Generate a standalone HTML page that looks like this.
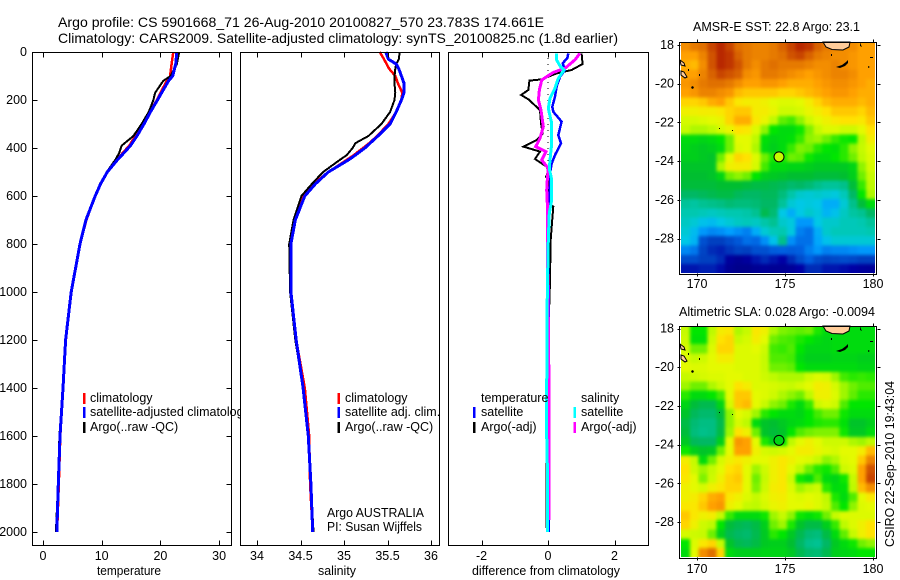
<!DOCTYPE html>
<html lang="en">
<head>
<meta charset="utf-8">
<title>Argo profile 5901668_71</title>
<style>
html,body{margin:0;padding:0;background:#fff;}
svg{display:block;}
text{font-family:"Liberation Sans",sans-serif;fill:#000;}
</style>
</head>
<body>
<svg id="fig" xmlns="http://www.w3.org/2000/svg" width="900" height="580" viewBox="0 0 900 580">
  <defs>
    <filter id="soften" x="-5%" y="-5%" width="110%" height="110%" color-interpolation-filters="sRGB">
      <feGaussianBlur stdDeviation="1.7"/>
      <feComponentTransfer><feFuncA type="linear" slope="200" intercept="0"/></feComponentTransfer>
    </filter>
    <clipPath id="clip-m1"><rect x="681" y="42" width="194" height="231"/></clipPath>
    <clipPath id="clip-m2"><rect x="681" y="326" width="194" height="231"/></clipPath>
  </defs>
  <rect width="900" height="580" fill="#fff"/>
  <text x="58" y="27" font-size="14" textLength="486" lengthAdjust="spacingAndGlyphs">Argo profile: CS 5901668_71 26-Aug-2010 20100827_570 23.783S 174.661E</text>
  <text x="58" y="43" font-size="14" textLength="560" lengthAdjust="spacingAndGlyphs">Climatology: CARS2009. Satellite-adjusted climatology: synTS_20100825.nc (1.8d earlier)</text>
  <g id="p1"></g>
  <g id="p2"></g>
  <g id="p3"></g>
  <g id="m1"></g>
  <g id="m2"></g>
  <g id="overlay">
    <text x="97" y="575" font-size="12.5" textLength="64" lengthAdjust="spacingAndGlyphs">temperature</text>
    <text x="318" y="575" font-size="12.5" textLength="38" lengthAdjust="spacingAndGlyphs">salinity</text>
    <text x="472" y="575" font-size="12.5" textLength="148" lengthAdjust="spacingAndGlyphs">difference from climatology</text>
    <text x="327" y="517" font-size="12.5" textLength="97" lengthAdjust="spacingAndGlyphs">Argo AUSTRALIA</text>
    <text x="327" y="531" font-size="12.5" textLength="95" lengthAdjust="spacingAndGlyphs">PI: Susan Wijffels</text>
    <text x="693" y="31" font-size="12.5" textLength="167" lengthAdjust="spacingAndGlyphs">AMSR-E SST: 22.8 Argo: 23.1</text>
    <text x="679" y="316" font-size="12.5" textLength="196" lengthAdjust="spacingAndGlyphs">Altimetric SLA: 0.028 Argo: -0.0094</text>
    <text transform="translate(894,547) rotate(-90)" font-size="12.5" textLength="166" lengthAdjust="spacingAndGlyphs">CSIRO 22-Sep-2010 19:43:04</text>
  </g>
</svg>
<script>
// ---------- profile data ----------
const depthTicks = [0,200,400,600,800,1000,1200,1400,1600,1800,2000];
const tempTicks = [0,10,20,30];
const salTickValues = [34,34.5,35,35.5,36];
const salTickLabels = ['34','34.5','35','35.5','36'];
const diffTicks = [-2,0,2];

const tempDepth = [0,50,100,120,170,200,250,300,350,390,420,450,500,550,600,700,800,1000,1200,1400,1600,1800,2000];
const tempClim = [22.2,21.9,21.65,21.1,20.0,19.4,18.2,17.0,15.7,14.7,13.6,12.55,10.95,9.8,8.9,7.4,6.3,4.8,3.9,3.4,2.95,2.7,2.4];
const tempSat = [22.8,22.6,22.1,21.4,20.2,19.5,18.3,17.2,16.0,14.9,13.8,12.65,10.95,9.8,8.9,7.3,6.3,4.8,3.85,3.4,2.9,2.6,2.35];
const tempArgo = [23.2,22.8,21.75,20.5,19.1,18.8,18.0,16.8,15.4,13.4,13.0,12.3,10.85,9.7,8.9,7.3,6.25,4.75,3.85,3.35,2.8,2.55,2.2];

const salDepth = [0,30,50,70,100,130,170,200,250,300,350,380,400,430,450,500,550,600,700,800,1000,1200,1400,1600,1800,2000];
const salClim = [35.41,35.46,35.49,35.52,35.59,35.62,35.67,35.66,35.6,35.51,35.38,35.29,35.22,35.11,35.03,34.82,34.65,34.53,34.44,34.39,34.39,34.45,34.55,34.6,34.61,34.64];
const salSat = [35.48,35.51,35.6,35.63,35.66,35.69,35.69,35.66,35.6,35.53,35.39,35.3,35.24,35.13,35.05,34.82,34.67,34.55,34.44,34.39,34.39,34.45,34.53,34.59,34.62,34.64];
const salArgo = [35.64,35.63,35.6,35.59,35.58,35.58,35.59,35.58,35.53,35.43,35.28,35.13,35.1,35.03,34.95,34.76,34.63,34.51,34.42,34.37,34.38,34.44,34.53,34.59,34.62,34.65];

const diffTempArgoDepth = [6,50,75,89,114,119,158,179,197,242,297,339,367,394,415,446,478,499,519,533,575,631,644,728,783,1000,1200,1400,1600,1840,1983];
const diffTempArgo = [1.01,1.04,.71,.26,-.19,-.56,-.59,-.81,-.59,-.24,-.21,-.16,-.34,-.74,-.24,-.39,-.04,.01,-.06,.04,.01,-.02,.16,.11,.08,.05,.0,.0,-.03,-.05,-.05];
const diffTempSatDepth = [6,26,47,75,103,144,186,228,249,290,346,381,429,464,506,561,617,658,783,1000,1400,1800,2000];
const diffTempSat = [.61,.58,.44,.51,.36,.26,.21,.13,.16,.41,.31,.39,.21,.11,.06,.06,.04,-.02,-.02,.02,.03,.02,.02];
const diffSalArgoDepth = [6,33,68,85,103,117,158,200,242,311,360,394,415,450,485,533,575,631,783,1000,1400,1800,1950];
const diffSalArgo = [.96,.81,.51,.16,-.04,-.19,-.26,-.29,-.21,-.14,-.24,-.37,-.06,-.19,.01,-.02,-.04,-.02,-.02,.0,.03,.03,.03];
const diffSalSatDepth = [6,33,58,75,110,151,193,235,297,381,450,485,533,617,672,783,1000,1400,1600,1800,2000];
const diffSalSat = [.26,.26,.36,.48,.31,.21,.06,.01,.11,.11,.06,.04,.11,.11,.04,.01,-.02,-.04,-.04,-.01,-.01];

// ---------- map data (colour-scale index 0 cold/low .. 10 warm/high) ----------
const mapLonTicks = [170,175,180];
const mapLatTicks = [18,20,22,24,26,28];
const argoLon = 174.66;
const argoLat = 23.78;
const sstArgoValue = 7.6;
const slaArgoValue = 5.9;
const sstGrid = [
[9.2,9.4,9.5,9.8,10,9.8,9.5,9.4,9.3,9.3,9.4,9.6,9.8,10,9.9,9.6,9.4,9.3,9.2,9.2,9.0,9.0],
[9.0,9.0,9.3,9.7,10,9.9,9.6,9.4,9.3,9.3,9.4,9.5,9.7,9.8,9.6,9.4,9.3,9.2,9.2,9.1,9.0,9.0],
[8.9,8.8,9.2,9.7,10,9.9,9.7,9.4,9.2,9.4,9.5,9.4,9.4,9.4,9.3,9.2,9.2,9.3,9.2,9.1,9.0,9.0],
[9.0,9.0,9.3,9.6,9.8,9.7,9.6,9.2,9.1,9.4,9.4,9.3,9.2,9.1,9.0,9.1,9.2,9.3,9.3,9.2,9.0,9.0],
[9.1,9.2,9.4,9.5,9.5,9.4,9.2,9.0,9.0,9.1,9.1,9.0,8.9,8.9,8.9,9.0,9.1,9.2,9.2,9.1,9.0,8.9],
[9.0,9.1,9.3,9.3,9.2,9.1,8.8,8.7,8.7,8.7,8.7,8.6,8.6,8.7,8.8,8.9,9.0,9.1,9.1,9.0,8.9,8.9],
[8.6,8.6,8.7,8.9,9.0,8.7,8.4,8.3,8.3,8.2,8.0,7.9,7.9,8.0,8.3,8.6,8.8,8.9,8.9,8.9,8.8,8.9],
[8.2,8.2,8.3,8.3,8.4,8.6,8.7,8.7,8.3,8.3,8.1,7.7,7.7,7.8,8.1,8.3,8.5,8.7,8.7,8.7,8.6,8.8],
[7.8,7.8,7.9,8.0,8.1,8.6,8.9,8.9,8.4,8.1,7.5,6.9,6.7,7.2,7.7,8.0,8.2,8.4,8.5,8.5,8.4,8.7],
[7.6,7.4,7.4,7.5,7.8,8.1,8.5,8.4,7.9,7.2,6.2,6.0,6.0,6.3,7.1,7.6,7.9,7.9,7.7,7.7,8.0,8.5],
[6.0,6.0,5.9,6.0,6.2,7.0,8.0,8.0,7.5,6.1,5.9,6.0,6.1,6.6,7.2,7.3,7.0,6.6,6.3,6.2,7.5,8.3],
[5.9,5.8,5.7,5.8,6.0,7.0,7.9,8.0,7.4,6.0,5.8,6.0,6.6,7.1,7.0,6.5,6.2,6.1,6.5,7.2,7.6,8.0],
[5.8,5.8,5.7,5.6,7.0,8.0,8.6,8.5,7.9,7.0,6.4,6.4,7.0,6.9,6.3,6.0,6.0,6.2,6.5,7.0,7.5,7.9],
[5.6,5.6,5.6,5.6,7.4,8.2,8.3,8.3,7.8,6.7,6.0,6.0,5.9,5.9,5.8,5.7,5.7,5.7,5.7,5.9,7.2,7.8],
[5.5,5.5,5.5,5.6,5.9,7.0,7.2,7.0,6.2,5.8,5.7,5.6,5.5,5.5,5.5,5.4,5.4,5.4,5.5,5.8,7.0,7.6],
[5.4,5.4,5.4,5.4,5.5,5.5,5.5,5.4,5.3,5.3,5.2,5.1,4.9,5.0,4.8,4.5,4.3,4.3,4.5,5.4,6.6,7.5],
[5.0,5.0,5.1,5.2,5.3,5.3,5.1,5.0,5.0,5.1,5.1,4.7,4.1,3.7,3.6,3.7,3.6,3.5,3.9,5.0,6.2,7.4],
[4.3,4.2,4.4,4.5,4.6,4.8,4.7,4.7,4.8,5.0,5.0,4.3,3.6,3.4,3.5,3.4,3.0,3.0,3.6,4.5,5.4,6.0],
[4.0,4.0,3.9,3.8,3.9,4.0,4.0,4.1,4.4,5.2,4.8,3.4,3.0,3.4,3.7,3.5,3.1,3.3,3.8,4.2,4.4,5.0],
[3.8,3.6,3.3,3.2,3.4,3.6,3.8,3.9,3.8,4.1,4.4,3.7,3.5,2.7,2.7,3.4,3.7,3.7,3.9,3.9,4.0,4.3],
[3.6,3.2,2.7,2.5,2.6,2.8,2.6,2.4,3.0,3.6,3.9,4.0,3.5,2.4,2.2,3.0,3.7,3.9,3.9,3.9,3.9,4.0],
[3.4,3.1,1.6,1.2,1.2,1.5,1.8,2.2,2.1,2.6,3.3,4.5,2.6,2.2,2.2,2.9,3.3,3.6,3.6,3.6,3.6,3.6],
[2.5,2.3,1.3,1.0,0.9,1.1,1.3,1.2,1.6,1.6,1.9,2.0,1.9,2.0,2.4,2.7,2.4,2.5,2.5,2.6,2.7,2.7],
[1.5,1.5,1.2,1.2,1.0,0.4,0.2,0.4,0.8,1.0,0.8,0.6,1.0,1.5,2.0,1.5,1.3,1.4,1.5,1.4,1.2,1.2],
[0.8,0.8,0.9,0.9,0.7,0.2,0,0,0.2,0.3,0.2,0.2,0.3,0.6,1.0,1.0,0.8,0.8,0.7,0.6,0.4,0.3]
];
const slaGrid = [
[7.6,6.2,6.2,7.5,8.3,8.4,7.4,7.6,8.4,8.2,7.4,7.1,7.0,6.9,7.0,6.4,6.0,6.0,6.0,6.0,6.0,6.0],
[7.7,6.1,6.1,7.7,8.5,8.6,7.6,7.8,8.3,8.0,7.0,6.8,6.7,6.4,6.2,6.0,5.9,6.0,6.0,6.0,6.0,6.0],
[7.8,7.0,7.0,7.9,8.6,8.6,7.9,7.9,8.0,7.7,6.7,6.6,6.8,6.2,5.9,5.9,5.9,6.0,6.0,6.0,6.0,6.0],
[7.9,7.6,7.7,8.0,8.3,8.3,7.9,7.9,7.9,7.6,6.8,6.8,6.7,6.0,5.8,5.8,5.8,5.9,5.9,5.9,5.8,5.8],
[8.0,7.9,7.9,8.0,8.0,8.0,7.9,7.9,7.9,7.6,7.0,7.0,6.9,6.2,6.0,6.0,6.0,6.0,6.0,6.0,5.9,5.9],
[7.6,7.7,7.8,7.9,7.9,8.0,8.0,7.9,7.9,7.7,7.5,7.4,7.4,7.4,7.7,7.9,7.8,7.3,6.7,6.5,6.6,6.5],
[7.3,7.0,7.0,7.4,7.7,8.0,8.5,8.3,7.9,7.9,7.8,7.7,7.6,7.8,8.0,8.3,8.2,7.8,7.3,7.0,6.8,6.8],
[6.5,6.0,6.0,6.2,6.7,8.0,8.7,8.7,8.0,7.9,7.7,7.4,7.2,7.0,7.5,8.2,8.2,7.9,7.3,6.9,6.5,6.5],
[5.9,5.4,5.2,5.2,5.9,7.8,8.7,8.8,8.0,7.6,7.2,7.0,6.4,6.0,6.6,7.7,7.9,7.7,6.8,6.2,6.2,6.2],
[5.6,5.1,4.9,4.9,5.4,7.2,8.0,7.8,7.3,6.5,6.2,6.0,6.0,5.9,6.2,6.7,7.0,7.0,6.3,6.0,6.0,6.0],
[5.3,4.8,4.6,4.6,5.2,7.2,7.8,7.5,6.0,5.6,5.5,5.7,5.9,6.0,6.2,6.4,6.5,6.5,6.1,5.6,5.6,5.8],
[5.4,4.7,4.5,4.6,5.3,7.3,8.5,8.2,7.0,5.6,5.4,5.6,6.2,6.8,7.0,7.1,7.1,7.1,6.3,5.7,5.7,6.0],
[5.7,5.1,5.0,5.0,5.8,8.0,9.1,9.0,8.0,6.4,5.8,6.2,7.5,8.0,8.2,8.0,7.7,7.7,7.7,7.4,7.3,7.5],
[6.3,5.8,5.6,5.7,7.0,8.0,9.0,9.0,8.2,7.8,7.7,7.8,8.0,8.3,8.3,8.1,7.9,7.8,8.0,8.0,8.3,8.8],
[8.3,7.6,6.0,7.0,7.8,8.2,8.4,8.2,8.0,8.0,8.2,8.4,8.2,8.0,7.9,7.6,7.2,7.4,7.9,8.0,8.7,9.3],
[8.5,7.7,7.3,7.6,8.0,8.5,8.6,8.0,7.3,7.7,8.2,8.4,8.0,7.5,7.0,6.5,6.3,6.8,7.7,7.9,9.0,9.7],
[8.4,8.0,7.1,7.7,8.2,8.6,8.7,8.0,7.0,7.6,8.2,8.4,7.7,6.3,6.0,6.8,6.0,5.9,6.3,7.6,9.0,9.8],
[8.2,8.0,7.8,8.2,8.4,8.6,8.6,8.0,7.1,7.7,8.3,8.4,7.9,7.3,7.5,7.7,6.5,6.0,6.1,7.5,8.8,9.2],
[8.2,8.3,8.6,8.9,9.0,8.4,8.2,7.9,7.6,7.9,8.2,8.3,8.0,7.9,8.0,7.9,7.5,6.4,6.0,6.8,8.0,8.4],
[8.4,8.4,8.7,9.0,9.1,8.2,8.0,7.6,7.5,7.8,8.1,8.2,8.0,8.0,8.1,7.9,7.6,6.8,6.2,7.2,7.9,8.0],
[8.7,8.4,8.2,8.3,7.6,6.6,6.0,6.0,6.0,6.3,7.3,7.6,7.2,6.3,6.1,6.3,7.0,7.6,7.9,7.9,7.9,7.9],
[8.6,8.2,7.7,7.5,6.2,5.4,5.2,5.1,5.3,5.8,7.0,7.3,6.4,5.6,5.3,5.3,5.8,6.6,7.5,7.9,8.2,8.5],
[7.8,7.7,7.6,7.0,5.8,5.2,5.0,4.9,5.2,5.7,6.5,6.2,5.7,5.2,4.8,4.7,5.3,6.0,6.9,7.6,8.2,8.5],
[6.2,7.9,8.4,8.6,7.6,5.6,5.2,5.1,5.3,5.7,5.8,5.8,5.5,5.0,4.5,4.4,5.0,5.7,6.0,6.3,7.0,7.2],
[6.0,8.0,9.2,9.5,8.6,6.0,5.8,5.8,5.8,5.9,5.9,5.9,5.7,5.2,4.9,4.8,5.2,5.8,5.9,6.0,6.2,6.2]
];

// ---------- helpers ----------
const NS = 'http://www.w3.org/2000/svg';
function mk(tag, attrs, parent) {
  const el = document.createElementNS(NS, tag);
  for (const k in attrs) el.setAttribute(k, attrs[k]);
  parent.appendChild(el);
  return el;
}
const depthY = d => 52 + d * 0.24;
const tempX = v => 43 + v * 5.87;
const salX = v => 257 + (v - 34) * 87;
const diffX = v => 548 + v * 33.25;

function polyline(parent, xs, ds, xFn, color, width) {
  const pts = xs.map((v, i) => xFn(v).toFixed(1) + ',' + depthY(ds[i]).toFixed(1)).join(' ');
  return mk('polyline', {points: pts, fill: 'none', stroke: color, 'stroke-width': width, 'stroke-linejoin': 'miter', 'shape-rendering': 'crispEdges'}, parent);
}
function tick(parent, x1, y1, x2, y2) {
  const t = mk('line', {x1: Math.round(x1) + .5, y1: Math.round(y1) + .5, x2: Math.round(x2) + .5, y2: Math.round(y2) + .5, stroke: '#000', 'stroke-width': 1, 'shape-rendering': 'crispEdges'}, parent);
  
  
  return t;
}
function label(parent, x, y, str, anchor, size) {
  const t = mk('text', {x, y, 'text-anchor': anchor || 'middle', 'font-size': size || 12.5}, parent);
  t.textContent = str;
  
  
  return t;
}
function panelBox(parent, x, w) {
  const bg = mk('rect', {x, y: 52, width: w, height: 493, fill: '#fff'}, parent);
  
  
}
function panelFrame(parent, x, w) {
  const f = mk('rect', {x: x + .5, y: 52.5, width: w, height: 493, fill: 'none', stroke: '#000', 'stroke-width': 1, 'shape-rendering': 'crispEdges'}, parent);
  
  
}
function legendEntry(parent, barX, textX, baseline, color, str) {
  if (color) {
    const b = mk('rect', {x: barX, y: baseline - 9, width: 2.5, height: 11, fill: color, 'shape-rendering': 'crispEdges'}, parent);
    
    
  }
  const t = mk('text', {x: textX, y: baseline, 'font-size': 12.5}, parent);
  t.textContent = str;
  
  
}
function xTicks(parent, vals, labels, fn) {
  vals.forEach((v, i) => {
    tick(parent, fn(v), 52, fn(v), 57);
    tick(parent, fn(v), 540, fn(v), 545);
    label(parent, fn(v), 560, labels[i]);
  });
}

// ---------- temperature panel ----------
const p1 = document.getElementById('p1');
panelBox(p1, 32, 199);
const l1a = polyline(p1, tempClim, tempDepth, tempX, '#ff0000', 2.5);


const l1b = polyline(p1, tempArgo, tempDepth, tempX, '#000000', 2);


const l1c = polyline(p1, tempSat, tempDepth, tempX, '#0000ff', 3);


panelFrame(p1, 32, 199);
xTicks(p1, tempTicks, tempTicks.map(String), tempX);
depthTicks.forEach(d => {
  tick(p1, 32, depthY(d), 37, depthY(d));
  tick(p1, 226, depthY(d), 231, depthY(d));
  label(p1, 27, depthY(d) + 4, String(d), 'end');
});
legendEntry(p1, 83, 90, 402, '#ff0000', 'climatology');
legendEntry(p1, 83, 90, 416, '#0000ff', 'satellite-adjusted climatology');
legendEntry(p1, 83, 90, 431, '#000000', 'Argo(..raw -QC)');

// ---------- salinity panel ----------
const p2 = document.getElementById('p2');
panelBox(p2, 240, 199);
const l2a = polyline(p2, salClim, salDepth, salX, '#ff0000', 2.5);


const l2b = polyline(p2, salArgo, salDepth, salX, '#000000', 2);


const l2c = polyline(p2, salSat, salDepth, salX, '#0000ff', 3);


panelFrame(p2, 240, 199);
xTicks(p2, salTickValues, salTickLabels, salX);
legendEntry(p2, 337.5, 345, 402, '#ff0000', 'climatology');
legendEntry(p2, 337.5, 345, 416, '#0000ff', 'satellite adj. clim.');
legendEntry(p2, 337.5, 345, 431, '#000000', 'Argo(..raw -QC)');

// ---------- difference panel ----------
const p3 = document.getElementById('p3');
panelBox(p3, 448, 200);
const zero = mk('line', {x1: diffX(0), y1: depthY(0), x2: diffX(0), y2: depthY(2000), stroke: '#000', 'stroke-width': 1, 'stroke-dasharray': '1 5', 'shape-rendering': 'crispEdges'}, p3);


const l3a = polyline(p3, diffTempArgo, diffTempArgoDepth, diffX, '#000000', 2);


const l3b = polyline(p3, diffTempSat, diffTempSatDepth, diffX, '#0000ff', 2.5);


const l3c = polyline(p3, diffSalArgo, diffSalArgoDepth, diffX, '#ff00ff', 3);


const l3d = polyline(p3, diffSalSat, diffSalSatDepth, diffX, '#00ffff', 3);


panelFrame(p3, 448, 200);
xTicks(p3, diffTicks, diffTicks.map(String), diffX);
legendEntry(p3, 0, 481, 402, null, 'temperature');
legendEntry(p3, 473, 481, 416, '#0000ff', 'satellite');
legendEntry(p3, 473, 481, 431, '#000000', 'Argo(-adj)');
legendEntry(p3, 0, 581, 402, null, 'salinity');
legendEntry(p3, 573.5, 581, 416, '#00ffff', 'satellite');
legendEntry(p3, 573.5, 581, 431, '#ff00ff', 'Argo(-adj)');

// ---------- maps ----------
const stops = [[0,0,0,140],[0.6,0,0,165],[1.2,0,64,192],[2,0,96,224],[2.8,0,160,255],[3.4,0,200,230],[4,0,200,176],[5,0,184,100],[5.5,0,190,48],[6.2,0,230,0],[6.8,80,236,0],[7.5,190,250,0],[8,228,250,0],[8.5,255,226,0],[9,255,160,0],[9.5,224,112,0],[10,184,40,0]];
function colour(v) {
  for (let i = 1; i < stops.length; i++) {
    if (v <= stops[i][0]) {
      const a = stops[i-1], b = stops[i], t = (v - a[0]) / (b[0] - a[0]);
      return 'rgb(' + [1,2,3].map(k => Math.round(a[k] + (b[k] - a[k]) * t)).join(',') + ')';
    }
  }
  return 'rgb(184,40,0)';
}
const lonX = lon => 697 + (lon - 170) * 17.6;

function drawMap(id, grid, top, bottom, lat18, cellName, argoValue, bottomLabelY) {
  const g = document.getElementById(id);
  const latY = lat => lat18 + (lat - 18) * 19.35;
  const left = 681, right = 875, rows = grid.length, cols = grid[0].length;
  const cw = (right - left) / cols, ch = (bottom - top) / rows;
  const clipGroup = mk('g', {'clip-path': 'url(#clip-' + id + ')'}, g);
  const cells = mk('g', {filter: 'url(#soften)'}, clipGroup);
  grid.forEach((row, r) => row.forEach((v, c) => {
    const cell = mk('rect', {x: (left + c * cw).toFixed(2), y: (top + r * ch).toFixed(2), width: (cw + .6).toFixed(2), height: (ch + .6).toFixed(2), fill: colour(v), 'shape-rendering': 'crispEdges'}, cells);
    
    
  }));
  const o = top - 41.7;
  const land = mk('path', {d: 'M823 42 L826 47 L832 49.5 L843 50 L849 47 L850 42 Z M680 60 L684 63 L685 66 L681 65 Z M681 71 L684 72 L687 77 L685 78 L681 75 Z', transform: 'translate(0,' + o + ')', fill: '#ffcc99', stroke: '#000', 'stroke-width': 1}, g);
  
  
  const reef = mk('path', {d: 'M836 67 L842 65 L846 62 L848 60 L848 63 L845 66 L840 68 Z M691 87 L693 86 L694 88 L692 89 Z M860 42 L861 45 L862 47 L860 46 Z M831 54 L832 54 L832 56 L831 56 Z M870 57 L873 57 L873 58 L870 58 Z M868 66 L870 67 L868 68 Z M688 69 L689 69 L689 71 L688 71 Z M699 74 L700 74 L700 76 L699 76 Z M719 128 L720 128 L720 129 L719 129 Z M732 130 L733 130 L733 131 L732 131 Z', transform: 'translate(0,' + o + ')', fill: '#000'}, g);
  
  
  const frame = mk('rect', {x: 679.5, y: Math.round(top) + .5, width: 197, height: Math.round(bottom - top), fill: 'none', stroke: '#000', 'stroke-width': 1, 'shape-rendering': 'crispEdges'}, g);
  
  
  mapLonTicks.forEach(lon => {
    tick(g, lonX(lon), top - 3, lonX(lon), top);
    tick(g, lonX(lon), bottom, lonX(lon), bottom + 3);
    label(g, lonX(lon), bottomLabelY, String(lon));
  });
  mapLatTicks.forEach(lat => {
    tick(g, 677, latY(lat), 680, latY(lat));
    tick(g, 877, latY(lat), 880, latY(lat));
    label(g, 674, latY(lat) + 4, String(lat), 'end');
    if (lat > 18) tick(g, 655, latY(lat), 659, latY(lat));
  });
  const dot = mk('circle', {cx: lonX(argoLon), cy: latY(argoLat), r: 5, fill: colour(argoValue), stroke: '#000', 'stroke-width': 1}, g);
  
  
}
drawMap('m1', sstGrid, 41.7, 273.3, 45, 'sst-cell', sstArgoValue, 288);
drawMap('m2', slaGrid, 325.7, 557.3, 328.5, 'sla-cell', slaArgoValue, 573);
</script>
</body>
</html>
